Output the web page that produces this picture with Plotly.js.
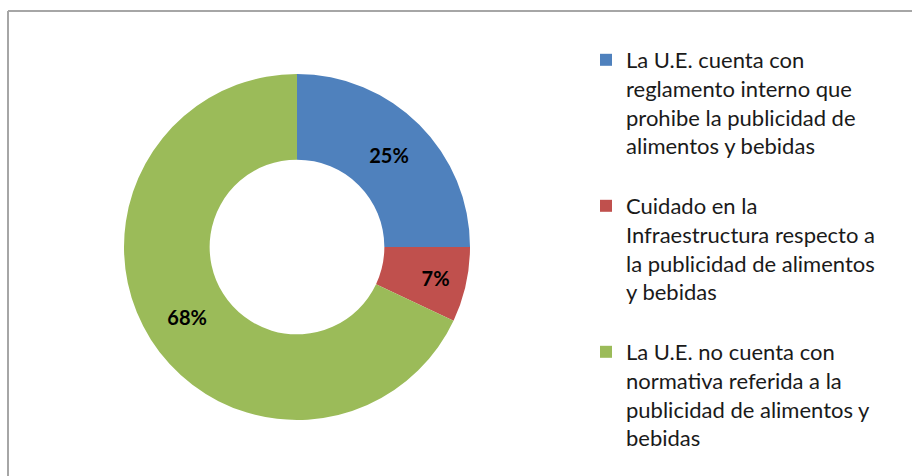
<!DOCTYPE html>
<html>
<head>
<meta charset="utf-8">
<script src="https://cdn.plot.ly/plotly-3.0.1.min.js"></script>
<style>html,body{margin:0;padding:0;background:#fff;}#chart{width:912px;height:476px;}</style>
</head>
<body>
<div id="chart"></div>
<script>
const categories = [
  "La U.E. cuenta con<br>reglamento interno que<br>prohibe la publicidad de<br>alimentos y bebidas",
  "Cuidado en la<br>Infraestructura respecto a<br>la publicidad de alimentos<br>y bebidas",
  "La U.E. no cuenta con<br>normativa referida a la<br>publicidad de alimentos y<br>bebidas"
];
const values = [25, 7, 68];
const colors = ["#4F81BD", "#C0504D", "#9BBB59"];

const W = 912, H = 476;
const cx = 297, cy = 247, R = 173;

const trace = {
  type: "pie",
  labels: categories.map((c, i) => i < categories.length - 1 ? c + "<br>\u00a0" : c),
  values: values,
  hole: 0.505,
  sort: false,
  direction: "clockwise",
  rotation: 0,
  marker: { colors: colors, line: { width: 0 } },
  textinfo: "percent",
  textposition: "inside",
  insidetextorientation: "horizontal",
  textfont: { family: "Lato, sans-serif", size: 20, color: "#000000", weight: "bold" },
  hoverinfo: "none",
  domain: {
    x: [(cx - R) / W, (cx + R) / W],
    y: [(H - cy - R) / H, (H - cy + R) / H]
  }
};

const layout = {
  width: W, height: H,
  margin: { l: 0, r: 0, t: 0, b: 0 },
  paper_bgcolor: "#ffffff",
  showlegend: true,
  legend: {
    x: 586 / W, xanchor: "left",
    y: 1 - 39 / H, yanchor: "top",
    valign: "top",
    font: { family: "Lato, sans-serif", size: 22, color: "#1a1a1a" },
    bgcolor: "rgba(0,0,0,0)"
  },
  shapes: [
    { type: "line", xref: "paper", yref: "paper", x0: 8 / W, x1: 8 / W, y0: -0.05, y1: 1 - 11 / H, line: { color: "#A6A6A6", width: 2 } },
    { type: "line", xref: "paper", yref: "paper", x0: 8 / W, x1: 1.05, y0: 1 - 11 / H, y1: 1 - 11 / H, line: { color: "#A6A6A6", width: 2 } }
  ]
};

Plotly.newPlot("chart", [trace], layout, { displayModeBar: false, staticPlot: true });
</script>
</body>
</html>
